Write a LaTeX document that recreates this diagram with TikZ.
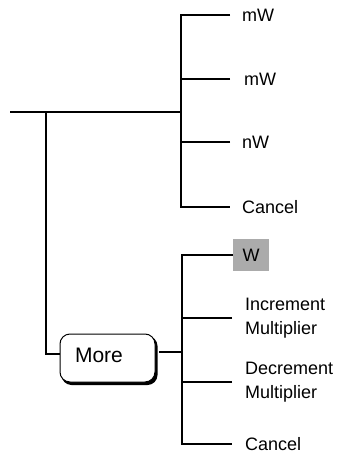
\documentclass[tikz,border=0pt]{standalone}
\usepackage{fontspec}
\setmainfont{Liberation Sans}
\begin{document}
\begin{tikzpicture}[x=1pt,y=-1pt,
  wire/.style={line width=1.8pt},
  lbl/.style={anchor=west,inner xsep=12pt,inner ysep=0pt,align=left,font=\fontsize{18}{24}\selectfont},
  selbox/.style={anchor=west,fill=black!33,minimum width=36pt,minimum height=32pt,inner sep=0pt,font=\fontsize{18}{24}\selectfont},
  morebox/.style={draw,line width=1pt,rounded corners=10pt,fill=white,minimum width=95pt,minimum height=48pt,font=\fontsize{21}{24}\selectfont}
]
\useasboundingbox (0,0) rectangle (338,454);
% top menu
\coordinate (start) at (10,112);
\coordinate (h1) at (181,112);
\coordinate (v1) at (46,112);
\node[lbl] (t1) at (230,15) {mW};
\node[lbl,inner xsep=14pt] (t2) at (230,79) {mW};
\node[lbl] (t3) at (230,142) {nW};
\node[lbl] (t4) at (230,207) {Cancel};
\draw[wire] (start) -- (h1);
\draw[wire] (t1.west) -| (h1) |- (t4.west);
\draw[wire] (t2.west) -- (t2.west -| h1);
\draw[wire] (t3.west) -- (t3.west -| h1);
% More box
\fill[black,rounded corners=10pt] (61.5,336) rectangle (157.5,385);
\node[morebox] (more) at (107.5,358) {};
\node[font=\fontsize{21}{24}\selectfont] (moretxt) at (99,355) {More};
\draw[wire] (v1) |- (more.west |- 0,354);
% bottom menu
\coordinate (h2) at (182,352);
\node[selbox] (b1) at (233,255) {W};
\node[lbl,inner xsep=13pt] (b2) at (232,318) {Increment\\Multiplier};
\node[lbl,inner xsep=13pt] (b3) at (232,382) {Decrement\\Multiplier};
\node[lbl,inner xsep=13pt] (b4) at (232,444) {Cancel};
\draw[wire] (159,352) -- (h2);
\draw[wire] (b1.west) -| (h2) |- (b4.west);
\draw[wire] (b2.west) -- (b2.west -| h2);
\draw[wire] (b3.west) -- (b3.west -| h2);
\end{tikzpicture}
\end{document}
